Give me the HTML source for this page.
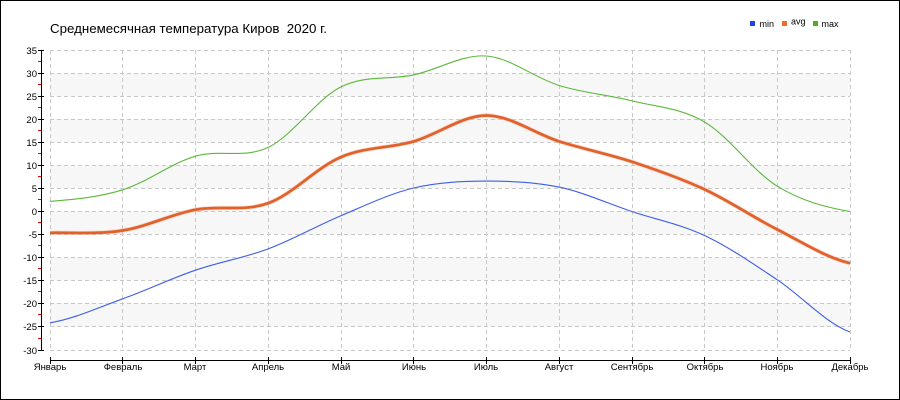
<!DOCTYPE html>
<html>
<head>
<meta charset="utf-8">
<style>
  html,body{margin:0;padding:0;background:#fff;}
  .wrap{width:900px;height:400px;box-sizing:border-box;border:1px solid #000;position:relative;overflow:hidden;background:#fff;}
  svg{position:absolute;left:-1px;top:-1px;}
  text{font-family:"Liberation Sans","DejaVu Sans",sans-serif;}
</style>
</head>
<body>
<div class="wrap">
<svg width="900" height="400" viewBox="0 0 900 400" xmlns="http://www.w3.org/2000/svg">
  <!-- bands -->
  <g fill="#f7f7f7">
    <rect x="50" y="73" width="800" height="23"/>
    <rect x="50" y="119" width="800" height="23"/>
    <rect x="50" y="165" width="800" height="23"/>
    <rect x="50" y="211" width="800" height="23"/>
    <rect x="50" y="257" width="800" height="23"/>
    <rect x="50" y="303" width="800" height="24"/>
  </g>
  <!-- horizontal grid -->
  <g stroke="#c8c8c8" stroke-width="1" stroke-dasharray="4,3" fill="none">
    <line x1="50" y1="50.5" x2="850" y2="50.5"/>
    <line x1="50" y1="73.5" x2="850" y2="73.5"/>
    <line x1="50" y1="96.5" x2="850" y2="96.5"/>
    <line x1="50" y1="119.5" x2="850" y2="119.5"/>
    <line x1="50" y1="142.5" x2="850" y2="142.5"/>
    <line x1="50" y1="165.5" x2="850" y2="165.5"/>
    <line x1="50" y1="188.5" x2="850" y2="188.5"/>
    <line x1="50" y1="211.5" x2="850" y2="211.5"/>
    <line x1="50" y1="234.5" x2="850" y2="234.5"/>
    <line x1="50" y1="257.5" x2="850" y2="257.5"/>
    <line x1="50" y1="280.5" x2="850" y2="280.5"/>
    <line x1="50" y1="303.5" x2="850" y2="303.5"/>
    <line x1="50" y1="326.5" x2="850" y2="326.5"/>
    <line x1="50" y1="350.5" x2="850" y2="350.5"/>
  </g>
  <!-- vertical grid -->
  <g stroke="#c8c8c8" stroke-width="1" stroke-dasharray="4,3" fill="none">
    <line x1="50.5" y1="50" x2="50.5" y2="351"/>
    <line x1="122.5" y1="50" x2="122.5" y2="351"/>
    <line x1="195.5" y1="50" x2="195.5" y2="351"/>
    <line x1="268.5" y1="50" x2="268.5" y2="351"/>
    <line x1="341.5" y1="50" x2="341.5" y2="351"/>
    <line x1="413.5" y1="50" x2="413.5" y2="351"/>
    <line x1="486.5" y1="50" x2="486.5" y2="351"/>
    <line x1="559.5" y1="50" x2="559.5" y2="351"/>
    <line x1="632.5" y1="50" x2="632.5" y2="351"/>
    <line x1="704.5" y1="50" x2="704.5" y2="351"/>
    <line x1="777.5" y1="50" x2="777.5" y2="351"/>
    <line x1="850.5" y1="50" x2="850.5" y2="351"/>
  </g>

  <!-- Y axis -->
  <line x1="41.5" y1="50" x2="41.5" y2="351" stroke="#000" stroke-width="1"/>
  <g stroke="#000" stroke-width="1">
    <line x1="38" y1="50.5" x2="44" y2="50.5"/>
    <line x1="38" y1="73.5" x2="44" y2="73.5"/>
    <line x1="38" y1="96.5" x2="44" y2="96.5"/>
    <line x1="38" y1="119.5" x2="44" y2="119.5"/>
    <line x1="38" y1="142.5" x2="44" y2="142.5"/>
    <line x1="38" y1="165.5" x2="44" y2="165.5"/>
    <line x1="38" y1="188.5" x2="44" y2="188.5"/>
    <line x1="38" y1="211.5" x2="44" y2="211.5"/>
    <line x1="38" y1="234.5" x2="44" y2="234.5"/>
    <line x1="38" y1="257.5" x2="44" y2="257.5"/>
    <line x1="38" y1="280.5" x2="44" y2="280.5"/>
    <line x1="38" y1="303.5" x2="44" y2="303.5"/>
    <line x1="38" y1="326.5" x2="44" y2="326.5"/>
    <line x1="38" y1="350.5" x2="44" y2="350.5"/>
  </g>
  <g stroke="#e00000" stroke-width="1">
    <line x1="38" y1="61.5" x2="41" y2="61.5"/>
    <line x1="38" y1="84.5" x2="41" y2="84.5"/>
    <line x1="38" y1="107.5" x2="41" y2="107.5"/>
    <line x1="38" y1="130.5" x2="41" y2="130.5"/>
    <line x1="38" y1="153.5" x2="41" y2="153.5"/>
    <line x1="38" y1="176.5" x2="41" y2="176.5"/>
    <line x1="38" y1="199.5" x2="41" y2="199.5"/>
    <line x1="38" y1="222.5" x2="41" y2="222.5"/>
    <line x1="38" y1="245.5" x2="41" y2="245.5"/>
    <line x1="38" y1="268.5" x2="41" y2="268.5"/>
    <line x1="38" y1="291.5" x2="41" y2="291.5"/>
    <line x1="38" y1="314.5" x2="41" y2="314.5"/>
    <line x1="38" y1="338.5" x2="41" y2="338.5"/>
  </g>
  <g font-size="9.5" fill="#000" text-anchor="end">
    <text x="37" y="54">35</text>
    <text x="37" y="77">30</text>
    <text x="37" y="100">25</text>
    <text x="37" y="123">20</text>
    <text x="37" y="146">15</text>
    <text x="37" y="169">10</text>
    <text x="37" y="192">5</text>
    <text x="37" y="215">0</text>
    <text x="37" y="238">-5</text>
    <text x="37" y="261">-10</text>
    <text x="37" y="284">-15</text>
    <text x="37" y="307">-20</text>
    <text x="37" y="330">-25</text>
    <text x="37" y="354">-30</text>
  </g>

  <!-- X axis -->
  <line x1="50" y1="360.5" x2="851" y2="360.5" stroke="#000" stroke-width="1"/>
  <g stroke="#000" stroke-width="1">
    <line x1="50.5" y1="357" x2="50.5" y2="364"/>
    <line x1="122.5" y1="357" x2="122.5" y2="364"/>
    <line x1="195.5" y1="357" x2="195.5" y2="364"/>
    <line x1="268.5" y1="357" x2="268.5" y2="364"/>
    <line x1="341.5" y1="357" x2="341.5" y2="364"/>
    <line x1="413.5" y1="357" x2="413.5" y2="364"/>
    <line x1="486.5" y1="357" x2="486.5" y2="364"/>
    <line x1="559.5" y1="357" x2="559.5" y2="364"/>
    <line x1="632.5" y1="357" x2="632.5" y2="364"/>
    <line x1="704.5" y1="357" x2="704.5" y2="364"/>
    <line x1="777.5" y1="357" x2="777.5" y2="364"/>
    <line x1="850.5" y1="357" x2="850.5" y2="364"/>
  </g>
  <g font-size="9.5" fill="#000" text-anchor="middle">
    <text x="50" y="370">Январь</text>
    <text x="123" y="370">Февраль</text>
    <text x="195" y="370">Март</text>
    <text x="268" y="370">Апрель</text>
    <text x="341" y="370">Май</text>
    <text x="414" y="370">Июнь</text>
    <text x="486" y="370">Июль</text>
    <text x="559" y="370">Август</text>
    <text x="632" y="370">Сентябрь</text>
    <text x="705" y="370">Октябрь</text>
    <text x="777" y="370">Ноябрь</text>
    <text x="850" y="370">Декабрь</text>
  </g>

  <!-- series: min -->
  <path fill="none" stroke="#3d5ee8" stroke-width="1.1" d="M50,322.8 C74.24,318.8 98.49,307.57 122.73,298.8 C146.97,290.03 171.21,278.52 195.45,270.2 C219.69,261.88 243.94,257.98 268.18,248.9 C292.42,239.82 316.67,225.85 340.91,215.7 C365.15,205.55 389.4,193.77 413.64,188.0 C437.88,182.23 462.12,181.25 486.36,181.1 C510.6,180.95 534.85,182.03 559.09,187.1 C583.33,192.17 607.58,203.43 631.82,211.5 C656.06,219.57 680.31,224.12 704.55,235.5 C728.79,246.88 753.03,263.72 777.27,279.8 C801.51,295.88 825.76,323.3 850,332.0"/>

  <!-- series: max -->
  <path fill="none" stroke="#5cb83c" stroke-width="1.1" d="M50,201.4 C74.24,199.47 98.49,197.33 122.73,189.8 C146.97,182.27 171.21,163.27 195.45,156.2 C219.69,149.13 243.94,158.95 268.18,147.4 C292.42,135.85 316.67,98.98 340.91,86.9 C365.15,74.82 389.4,80.05 413.64,74.9 C437.88,69.75 462.12,54.23 486.36,56.0 C510.6,57.77 534.85,78.03 559.09,85.5 C583.33,92.97 607.58,94.72 631.82,100.8 C656.06,106.88 680.31,107.77 704.55,122.0 C728.79,136.23 753.03,171.28 777.27,186.2 C801.51,201.12 825.76,207.28 850,211.5"/>

  <!-- series: avg -->
  <path fill="none" stroke="#f3b296" stroke-opacity="0.5" stroke-width="4.2" d="M50,232.8 C74.24,232.42 98.49,234.35 122.73,230.5 C146.97,226.65 171.21,214.25 195.45,209.7 C219.69,205.15 243.94,211.97 268.18,203.2 C292.42,194.43 316.67,167.4 340.91,157.1 C365.15,146.8 389.4,148.33 413.64,141.4 C437.88,134.47 462.12,115.5 486.36,115.5 C510.6,115.5 534.85,133.7 559.09,141.4 C583.33,149.1 607.58,153.7 631.82,161.7 C656.06,169.7 680.31,178.1 704.55,189.4 C728.79,200.7 753.03,217.2 777.27,229.5 C801.51,241.8 825.76,257.58 850,263.2"/>
  <path fill="none" stroke="#e2612b" stroke-width="2.7" d="M50,232.8 C74.24,232.42 98.49,234.35 122.73,230.5 C146.97,226.65 171.21,214.25 195.45,209.7 C219.69,205.15 243.94,211.97 268.18,203.2 C292.42,194.43 316.67,167.4 340.91,157.1 C365.15,146.8 389.4,148.33 413.64,141.4 C437.88,134.47 462.12,115.5 486.36,115.5 C510.6,115.5 534.85,133.7 559.09,141.4 C583.33,149.1 607.58,153.7 631.82,161.7 C656.06,169.7 680.31,178.1 704.55,189.4 C728.79,200.7 753.03,217.2 777.27,229.5 C801.51,241.8 825.76,257.58 850,263.2"/>

  <!-- title -->
  <text x="50" y="33" font-size="12.5" fill="#000" textLength="277" lengthAdjust="spacingAndGlyphs">Среднемесячная температура Киров&#160; 2020 г.</text>

  <!-- legend -->
  <rect x="750" y="21" width="5" height="5" fill="#1f43e6"/>
  <text x="759.5" y="27" font-size="9" fill="#000">min</text>
  <rect x="782" y="21" width="5" height="5" fill="#ee6c34"/>
  <text x="791" y="24.5" font-size="9" fill="#000">avg</text>
  <rect x="813" y="21" width="5" height="5" fill="#4cae26"/>
  <text x="821.5" y="27" font-size="9" fill="#000">max</text>
</svg>
</div>
</body>
</html>
